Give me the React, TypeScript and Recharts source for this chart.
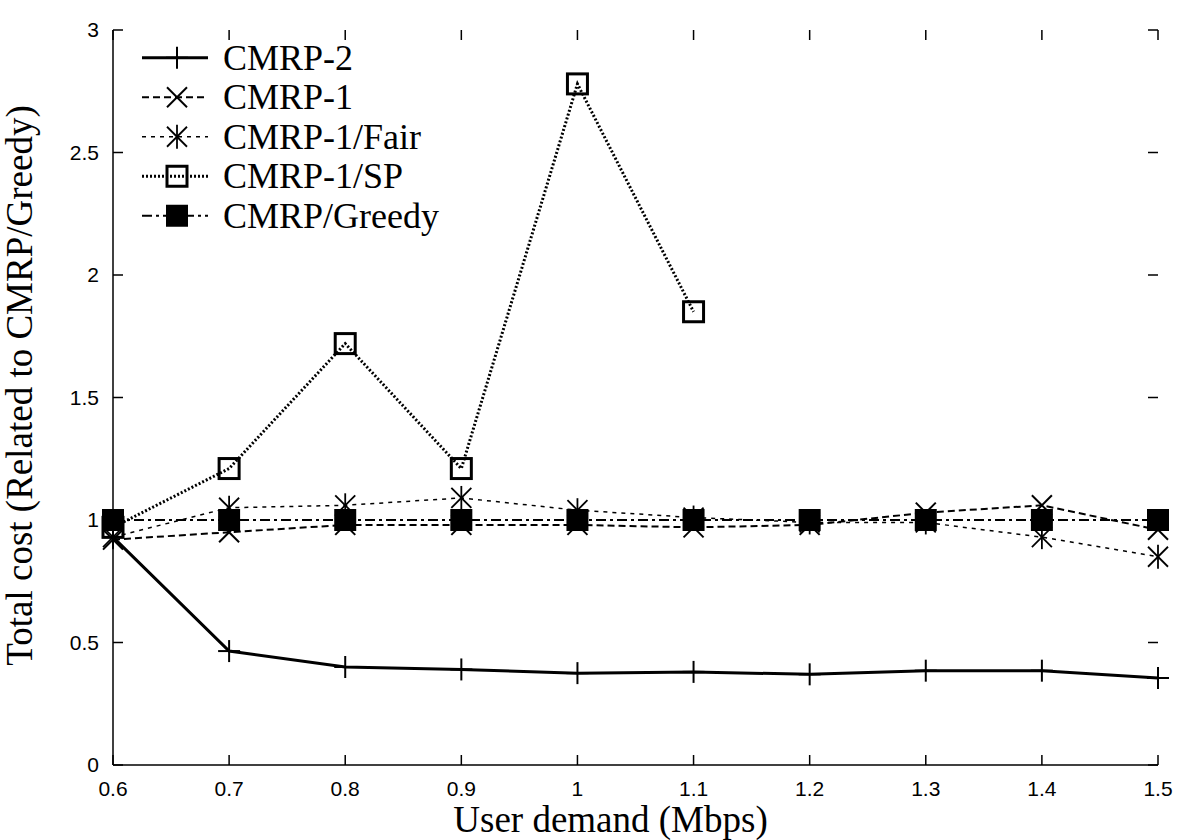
import React from 'react';
import { LineChart, Line, XAxis, YAxis, ReferenceLine } from 'recharts';

const demand = [0.6, 0.7, 0.8, 0.9, 1.0, 1.1, 1.2, 1.3, 1.4, 1.5];
const cmrp2 = [0.93, 0.465, 0.4, 0.39, 0.375, 0.38, 0.37, 0.385, 0.385, 0.355];
const cmrp1 = [0.92, 0.95, 0.98, 0.98, 0.98, 0.97, 0.98, 1.03, 1.06, 0.96];
const cmrp1Fair = [0.93, 1.05, 1.06, 1.09, 1.04, 1.01, 0.99, 0.99, 0.93, 0.85];
const cmrp1SP = [0.97, 1.21, 1.72, 1.21, 2.78, 1.85];
const greedy = [1, 1, 1, 1, 1, 1, 1, 1, 1, 1];

const xTicks = [0.6, 0.7, 0.8, 0.9, 1, 1.1, 1.2, 1.3, 1.4, 1.5];
const yTicks = [0, 0.5, 1, 1.5, 2, 2.5, 3];

const data = demand.map((d, i) => ({
  x: d,
  cmrp2: cmrp2[i],
  cmrp1: cmrp1[i],
  fair: cmrp1Fair[i],
  sp: cmrp1SP[i],
  greedy: greedy[i],
}));

type Shape = 'plus' | 'cross' | 'star' | 'box' | 'fbox';

function marker(shape: Shape, cx: number, cy: number, key?: string) {
  const k = key ?? `${shape}-${cx}-${cy}`;
  switch (shape) {
    case 'plus':
      return (
        <g key={k} stroke="#000" strokeWidth={2}>
          <line x1={cx - 11} y1={cy} x2={cx + 11} y2={cy} />
          <line x1={cx} y1={cy - 11} x2={cx} y2={cy + 11} />
        </g>
      );
    case 'cross':
      return (
        <g key={k} stroke="#000" strokeWidth={2}>
          <line x1={cx - 10} y1={cy - 10} x2={cx + 10} y2={cy + 10} />
          <line x1={cx - 10} y1={cy + 10} x2={cx + 10} y2={cy - 10} />
        </g>
      );
    case 'star':
      return (
        <g key={k} stroke="#000" strokeWidth={1.8}>
          <line x1={cx - 10} y1={cy - 10} x2={cx + 10} y2={cy + 10} />
          <line x1={cx - 10} y1={cy + 10} x2={cx + 10} y2={cy - 10} />
          <line x1={cx} y1={cy - 12} x2={cx} y2={cy + 12} />
        </g>
      );
    case 'box':
      return <rect key={k} x={cx - 10} y={cy - 10} width={20} height={20} fill="none" stroke="#000" strokeWidth={3} />;
    default:
      return <rect key={k} x={cx - 11} y={cy - 11} width={22} height={22} fill="#000" />;
  }
}

const dotFor = (shape: Shape) => (props: any) => {
  const { cx, cy, index, value } = props;
  if (value == null || cx == null || cy == null) return <g key={`e-${shape}-${index}`} />;
  return marker(shape, cx, cy, `${shape}-${index}`);
};

const series = [
  { key: 'cmrp2', name: 'CMRP-2', shape: 'plus' as Shape, width: 3, dash: undefined as string | undefined },
  { key: 'cmrp1', name: 'CMRP-1', shape: 'cross' as Shape, width: 2, dash: '7 4' },
  { key: 'fair', name: 'CMRP-1/Fair', shape: 'star' as Shape, width: 1.5, dash: '4 5' },
  { key: 'sp', name: 'CMRP-1/SP', shape: 'box' as Shape, width: 3, dash: '2 2' },
  { key: 'greedy', name: 'CMRP/Greedy', shape: 'fbox' as Shape, width: 2, dash: '10 4 3 4' },
];

const serif = "'Liberation Serif', 'Times New Roman', serif";
const sans = "'Liberation Sans', Arial, sans-serif";

function LegendBox() {
  const rowH = 39.5;
  return (
    <svg width={360} height={rowH * series.length} style={{ position: 'absolute', left: 130, top: 38 }}>
      {series.map((s, i) => {
        const y = rowH * i + rowH / 2;
        return (
          <g key={s.key}>
            <line x1={12} y1={y} x2={78} y2={y} stroke="#000" strokeWidth={s.width} strokeDasharray={s.dash} />
            {marker(s.shape, 47, y, `lg-${s.key}`)}
            <text x={93} y={y + 12} fontFamily={serif} fontSize={36} fill="#000">
              {s.name}
            </text>
          </g>
        );
      })}
    </svg>
  );
}

// plot box is 1045 x 735 px; gnuplot ticks point inward from both sides, 10 px long
const PLOT_W = 1045;
const PLOT_H = 735;
const TICK = 10;
const vTickDash = `${TICK} ${PLOT_H - 2 * TICK} ${TICK} 100`;
const hTickDash = `${TICK} ${PLOT_W - 2 * TICK} ${TICK} 100`;

const tickStyle = { fontFamily: sans, fontSize: 21, fill: '#000' };
const axisLine = { stroke: '#000', strokeWidth: 1.5 };
const tickLine = { stroke: '#000', strokeWidth: 1.5 };

const XLabel = (props: any) => {
  const { viewBox } = props;
  return (
    <text x={viewBox.x + viewBox.width / 2 - 25} y={viewBox.y + 67} textAnchor="middle" fontFamily={serif} fontSize={37} fill="#000">
      User demand (Mbps)
    </text>
  );
};

const YLabel = (props: any) => {
  const { viewBox } = props;
  const cx = viewBox.x - 21;
  const cy = viewBox.y + viewBox.height / 2 - 12;
  return (
    <text
      x={cx}
      y={cy}
      transform={`rotate(-90 ${cx} ${cy})`}
      textAnchor="middle"
      dominantBaseline="central"
      fontFamily={serif}
      fontSize={37}
      fill="#000"
    >
      Total cost (Related to CMRP/Greedy)
    </text>
  );
};

export default function App() {
  return (
    <div style={{ position: 'absolute', left: 0, top: 0, width: 1200, height: 840, background: '#fff' }}>
      <LineChart width={1200} height={840} data={data} margin={{ top: 30, right: 42, bottom: 0, left: 40 }}>
        <XAxis
          xAxisId="bottom"
          dataKey="x"
          type="number"
          domain={[0.6, 1.5]}
          ticks={xTicks}
          height={75}
          tickSize={0}
          tickMargin={16}
          tickLine={false}
          tick={tickStyle}
          axisLine={axisLine}
          label={<XLabel />}
        />
        {/* mirrored copy of the bottom axis: only draws the inward tick marks */}
        <XAxis
          xAxisId="bottomTicks"
          orientation="bottom"
          mirror
          dataKey="x"
          type="number"
          domain={[0.6, 1.5]}
          ticks={xTicks}
          height={TICK}
          tickSize={TICK}
          tick={false}
          tickLine={tickLine}
          axisLine={false}
        />
        <XAxis
          xAxisId="top"
          orientation="top"
          dataKey="x"
          type="number"
          domain={[0.6, 1.5]}
          ticks={xTicks}
          height={0}
          tick={false}
          tickLine={false}
          axisLine={axisLine}
        />
        <YAxis
          yAxisId="left"
          type="number"
          domain={[0, 3]}
          ticks={yTicks}
          width={73}
          tickSize={0}
          tickMargin={14}
          tickLine={false}
          tick={tickStyle}
          axisLine={axisLine}
          label={<YLabel />}
        />
        {/* mirrored copy of the left axis: only draws the inward tick marks */}
        <YAxis
          yAxisId="leftTicks"
          orientation="left"
          mirror
          type="number"
          domain={[0, 3]}
          ticks={yTicks}
          width={TICK}
          tickSize={TICK}
          tick={false}
          tickLine={tickLine}
          axisLine={false}
        />
        <YAxis
          yAxisId="right"
          orientation="right"
          type="number"
          domain={[0, 3]}
          ticks={yTicks}
          width={0}
          tick={false}
          tickLine={false}
          axisLine={axisLine}
        />
        {xTicks.map((v) => (
          <ReferenceLine
            key={`xt-${v}`}
            xAxisId="bottom"
            yAxisId="left"
            x={v}
            stroke="#000"
            strokeWidth={1.5}
            strokeDasharray={vTickDash}
            ifOverflow="visible"
          />
        ))}
        {yTicks.map((v) => (
          <ReferenceLine
            key={`yt-${v}`}
            xAxisId="bottom"
            yAxisId="left"
            y={v}
            stroke="#000"
            strokeWidth={1.5}
            strokeDasharray={hTickDash}
            ifOverflow="visible"
          />
        ))}
        {series.map((s) => (
          <Line
            key={s.key}
            xAxisId="bottom"
            yAxisId="left"
            dataKey={s.key}
            name={s.name}
            type="linear"
            stroke="#000"
            strokeWidth={s.width}
            strokeDasharray={s.dash}
            dot={dotFor(s.shape)}
            activeDot={false}
            connectNulls={false}
            isAnimationActive={false}
          />
        ))}
      </LineChart>
      <LegendBox />
    </div>
  );
}
